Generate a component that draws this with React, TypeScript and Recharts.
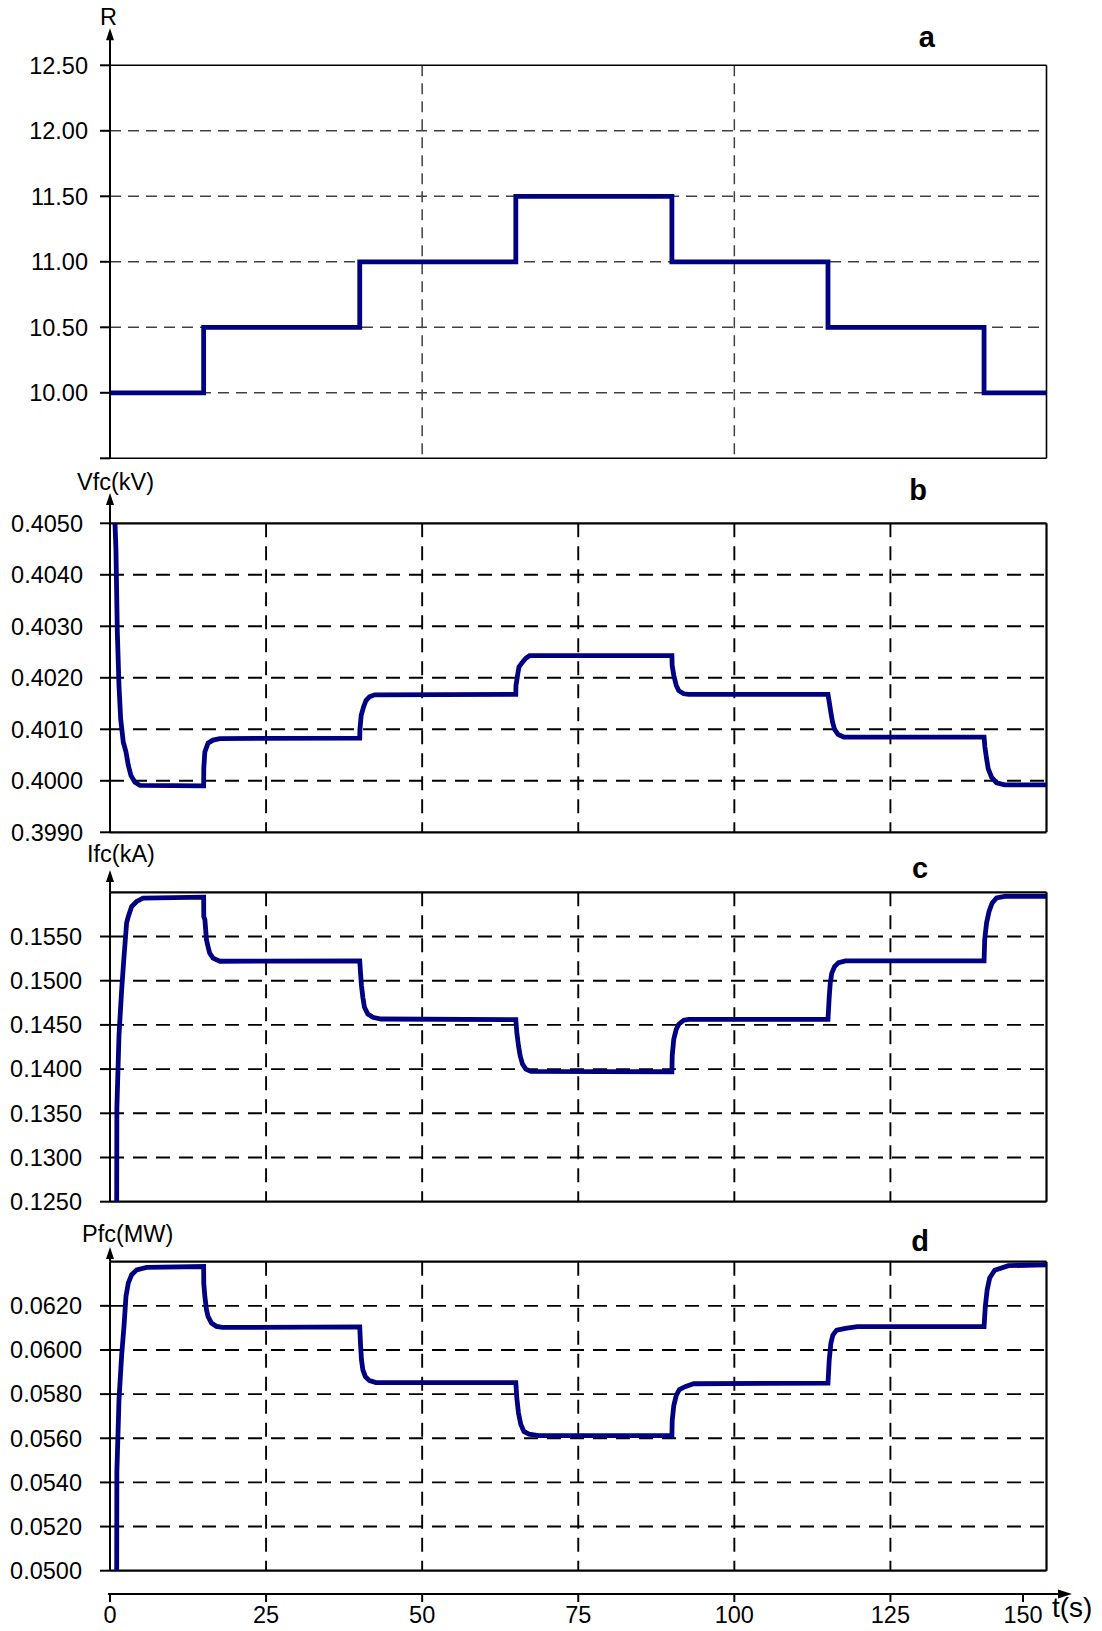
import React from 'react';
import { LineChart, Line, XAxis, YAxis, CartesianGrid, ReferenceLine } from 'recharts';

const FONT = '"Liberation Sans", Arial, Helvetica, sans-serif';
const NAVY = '#000080';
const PAGE_W = 1102;
const PLOT_LEFT = 110;
const PLOT_RIGHT = 1046.5;
const TIME_AXIS_H = 55;

// load resistance R, piecewise constant
const rTimes = [0, 15, 40, 65, 90, 115, 140, 150];
const rValues = [10.0, 10.5, 11.0, 11.5, 11.0, 10.5, 10.0, 10.0];

// fuel cell voltage Vfc (kV): [t, value]
const vfcPoints: [number, number][] = [
  [0.8, 0.405], [0.95, 0.4045], [1.17, 0.4029], [1.44, 0.40185], [1.71, 0.4012], [2.13, 0.40075],
  [2.56, 0.40056], [2.93, 0.4003], [3.36, 0.4001], [4.0, 0.39997], [4.8, 0.39991], [15.0, 0.3999],
  [15.02, 0.40024], [15.19, 0.40056], [15.7, 0.40073], [16.5, 0.40079], [17.6, 0.40082], [40.0, 0.40083],
  [40.02, 0.40098], [40.23, 0.40127], [40.6, 0.40143], [41.0, 0.40156], [41.56, 0.40163], [42.4, 0.40167], [65.0, 0.40168],
  [65.02, 0.40185], [65.27, 0.40204], [65.5, 0.40221], [65.97, 0.40229], [66.6, 0.40238], [67.2, 0.40243], [90.0, 0.40243],
  [90.04, 0.40224], [90.3, 0.40205], [90.7, 0.40185], [91.1, 0.40175], [91.9, 0.40169], [92.7, 0.40168], [115.0, 0.40168],
  [115.2, 0.40153], [115.46, 0.40133], [115.73, 0.40114], [116.05, 0.401], [116.6, 0.4009], [117.5, 0.40085], [140.0, 0.40085],
  [140.13, 0.40066], [140.4, 0.40043], [140.67, 0.40023], [141.2, 0.40007], [142.0, 0.39996], [143.3, 0.39992], [150.0, 0.39992],
];

// fuel cell current Ifc (kA)
const ifcPoints: [number, number][] = [
  [1.07, 0.125], [1.1, 0.1356], [1.44, 0.1438], [1.87, 0.149], [2.24, 0.1527], [2.66, 0.15655],
  [2.93, 0.15726], [3.47, 0.1584], [4.27, 0.15896], [5.3, 0.15935], [15.0, 0.15946],
  [15.02, 0.15726], [15.2, 0.15689], [15.45, 0.15463], [15.7, 0.15387], [15.96, 0.15312], [16.5, 0.15255], [17.6, 0.1522], [40.0, 0.15224],
  [40.12, 0.15095], [40.28, 0.14943], [40.5, 0.14812], [40.76, 0.14699], [41.3, 0.14623], [42.1, 0.14586], [43.4, 0.14567], [65.0, 0.1456],
  [65.16, 0.14413], [65.43, 0.14262], [65.7, 0.1415], [66.07, 0.14057], [66.6, 0.14], [67.4, 0.13974], [90.0, 0.1397],
  [90.05, 0.14152], [90.3, 0.14339], [90.7, 0.14452], [91.1, 0.14508], [91.9, 0.14553], [92.7, 0.14563], [115.0, 0.14563],
  [115.2, 0.14818], [115.36, 0.1497], [115.6, 0.15083], [116.05, 0.15159], [116.7, 0.15205], [117.8, 0.15224], [140.0, 0.15224],
  [140.1, 0.15463], [140.4, 0.15653], [140.8, 0.15784], [141.3, 0.1588], [142.0, 0.15936], [143.3, 0.15955], [150.0, 0.15955],
];

// fuel cell power Pfc (MW)
const pfcPoints: [number, number][] = [
  [1.07, 0.05], [1.1, 0.05449], [1.44, 0.05774], [1.87, 0.05978], [2.24, 0.06107], [2.56, 0.06243],
  [2.93, 0.06303], [3.47, 0.06341], [4.27, 0.06363], [5.86, 0.06374], [15.0, 0.06378],
  [15.02, 0.06303], [15.19, 0.06243], [15.45, 0.06183], [15.7, 0.06152], [16.25, 0.06122], [17.05, 0.06107], [18.0, 0.06102], [40.0, 0.06105],
  [40.12, 0.0603], [40.28, 0.05955], [40.5, 0.0591], [40.9, 0.05879], [41.56, 0.05861], [42.6, 0.05852], [65.0, 0.05852],
  [65.16, 0.05782], [65.43, 0.05714], [65.8, 0.05662], [66.3, 0.05631], [67.1, 0.05619], [68.7, 0.05612], [90.0, 0.05612],
  [90.05, 0.0568], [90.3, 0.05748], [90.7, 0.05794], [91.2, 0.05821], [92.2, 0.05835], [93.5, 0.05847], [115.0, 0.0585],
  [115.2, 0.05955], [115.46, 0.0603], [115.78, 0.06068], [116.4, 0.0609], [117.8, 0.06098], [119.7, 0.06106], [140.0, 0.06106],
  [140.2, 0.06197], [140.5, 0.06273], [140.9, 0.06326], [141.7, 0.06361], [143.9, 0.06382], [150.0, 0.06386],
];

const timeTicks = [0, 25, 50, 75, 100, 125, 150];
const rTicks = [9.5, 10, 10.5, 11, 11.5, 12, 12.5];
const vfcTicks = [0.399, 0.4, 0.401, 0.402, 0.403, 0.404, 0.405];
const ifcTicks = [0.125, 0.13, 0.135, 0.14, 0.145, 0.15, 0.155];
const pfcTicks = [0.05, 0.052, 0.054, 0.056, 0.058, 0.06, 0.062];

const toRows = (pts: [number, number][]) => pts.map(([t, v]) => ({ t, v }));

type PanelProps = {
  top: number;
  height: number;
  marginTop: number;
  marginBottom: number;
  data: { t: number; v: number }[];
  lineType: 'linear' | 'stepAfter';
  domain: [number, number];
  ticks: number[];
  digits: number;
  unlabeled?: number[];
  gridY: number[];
  gridX: number[];
  thin?: boolean;
  title: string;
  titleX: number;
  titleDy: number;
  arrowDy: number;
  letter: string;
  letterX: number;
  letterDy: number;
  tickMargin: number;
  timeAxis?: boolean;
};

function Panel(p: PanelProps) {
  const plotBottom = p.height - p.marginBottom - (p.timeAxis ? TIME_AXIS_H : 0);
  const frameW = p.thin ? 1.6 : 2.2;
  const axisY = plotBottom + 23.3;

  // y-axis arrow, axis title and panel letter above the frame
  const axisHead = () => (
    <g>
      <line x1={PLOT_LEFT} x2={PLOT_LEFT} y1={p.marginTop} y2={p.marginTop + p.arrowDy + 6} stroke="#000" strokeWidth={2} />
      <path d={`M${PLOT_LEFT} ${p.marginTop + p.arrowDy} l-4 12 h8 z`} fill="#000" />
      <text x={p.titleX} y={p.marginTop + p.titleDy} fontSize={23.5} fill="#000" fontFamily={FONT}>{p.title}</text>
      <text x={p.letterX} y={p.marginTop + p.letterDy} fontSize={29} fontWeight="bold" textAnchor="middle" fill="#000" fontFamily={FONT}>{p.letter}</text>
    </g>
  );

  // time axis drawn below the last panel, detached from the frame
  const timeHead = () => (
    <g>
      <line x1={108} x2={1060} y1={axisY} y2={axisY} stroke="#000" strokeWidth={2} />
      <path d={`M1072 ${axisY} l-14 -4.5 v9 z`} fill="#000" />
      <text x={1052} y={axisY + 23} fontSize={28} fill="#000" fontFamily={FONT}>t(s)</text>
    </g>
  );

  const timeTick = (props: any) => {
    const { x, payload } = props;
    // last label is pulled left to clear the t(s) caption
    const cx = payload.value === 150 ? x - 23.5 : x;
    return (
      <g>
        <line x1={cx} x2={cx} y1={axisY - 1} y2={axisY + 8} stroke="#000" strokeWidth={2} />
        <text x={cx} y={axisY + 29} fontSize={23.5} textAnchor="middle" fill="#000" fontFamily={FONT}>{payload.value}</text>
      </g>
    );
  };

  return (
    <div style={{ position: 'absolute', left: 0, top: p.top }}>
      <LineChart
        width={PAGE_W}
        height={p.height}
        data={p.data}
        margin={{ top: p.marginTop, bottom: p.marginBottom, left: 10, right: PAGE_W - PLOT_RIGHT }}
      >
        <CartesianGrid
          horizontalValues={p.gridY}
          verticalValues={p.gridX}
          stroke={p.thin ? '#404040' : '#000'}
          strokeWidth={p.thin ? 1.5 : 1.9}
          strokeDasharray={p.thin ? '11 7' : '14 9'}
        />
        {p.timeAxis ? (
          <XAxis
            type="number"
            dataKey="t"
            domain={[0, 150]}
            ticks={timeTicks}
            interval={0}
            height={TIME_AXIS_H}
            axisLine={false}
            tickLine={false}
            tickSize={0}
            tickMargin={0}
            tick={timeTick}
            label={{ content: timeHead }}
          />
        ) : (
          <XAxis type="number" dataKey="t" domain={[0, 150]} ticks={timeTicks} hide />
        )}
        <YAxis
          type="number"
          domain={p.domain}
          ticks={p.ticks}
          interval={0}
          width={100}
          axisLine={{ stroke: '#000', strokeWidth: 2 }}
          tickLine={{ stroke: '#000', strokeWidth: 2 }}
          tickSize={10}
          tickMargin={p.tickMargin}
          tick={{ fill: '#000', fontSize: 23.5, fontFamily: FONT }}
          tickFormatter={(v: number) => (p.unlabeled?.includes(v) ? '' : v.toFixed(p.digits))}
          label={{ content: axisHead }}
        />
        <ReferenceLine y={p.domain[1]} stroke="#000" strokeWidth={frameW} />
        <ReferenceLine y={p.domain[0]} stroke="#000" strokeWidth={frameW} />
        <ReferenceLine x={150} stroke="#000" strokeWidth={frameW} />
        <Line
          type={p.lineType}
          dataKey="v"
          stroke={NAVY}
          strokeWidth={4.8}
          dot={false}
          isAnimationActive={false}
        />
      </LineChart>
    </div>
  );
}

export default function App() {
  const rRows = rTimes.map((t, i) => ({ t, v: rValues[i] }));
  return (
    <div style={{ position: 'absolute', left: 0, top: 0, width: PAGE_W, height: 1631, background: '#fff', fontFamily: FONT }}>
      <style>{'.recharts-surface{overflow:visible}'}</style>
      <Panel
        top={0} height={470} marginTop={65.3} marginBottom={11.7}
        data={rRows} lineType="stepAfter"
        domain={[9.5, 12.5]} ticks={rTicks} digits={2} unlabeled={[9.5]}
        gridY={[10, 10.5, 11, 11.5, 12]} gridX={[50, 100]} thin
        title="R" titleX={100} titleDy={-40.3} arrowDy={-37}
        letter="a" letterX={926.7} letterDy={-18}
        tickMargin={12}
      />
      <Panel
        top={470} height={370} marginTop={53.3} marginBottom={7.7}
        data={toRows(vfcPoints)} lineType="linear"
        domain={[0.399, 0.405]} ticks={vfcTicks} digits={4}
        gridY={[0.4, 0.401, 0.402, 0.403, 0.404]} gridX={[25, 50, 75, 100, 125]}
        title="Vfc(kV)" titleX={77} titleDy={-33.5} arrowDy={-30.3}
        letter="b" letterX={918} letterDy={-23.8}
        tickMargin={17}
      />
      <Panel
        top={840} height={370} marginTop={52.3} marginBottom={8.3}
        data={toRows(ifcPoints)} lineType="linear"
        domain={[0.125, 0.16]} ticks={ifcTicks} digits={4}
        gridY={[0.13, 0.135, 0.14, 0.145, 0.15, 0.155]} gridX={[25, 50, 75, 100, 125]}
        title="Ifc(kA)" titleX={87} titleDy={-30.8} arrowDy={-22.3}
        letter="c" letterX={920} letterDy={-14}
        tickMargin={18}
      />
      <Panel
        top={1210} height={421} marginTop={51.7} marginBottom={5.3}
        data={toRows(pfcPoints)} lineType="linear"
        domain={[0.05, 0.064]} ticks={pfcTicks} digits={4}
        gridY={[0.052, 0.054, 0.056, 0.058, 0.06, 0.062]} gridX={[25, 50, 75, 100, 125]}
        title="Pfc(MW)" titleX={82} titleDy={-20.2} arrowDy={-14.7}
        letter="d" letterX={920} letterDy={-10.7}
        tickMargin={18} timeAxis
      />
    </div>
  );
}
